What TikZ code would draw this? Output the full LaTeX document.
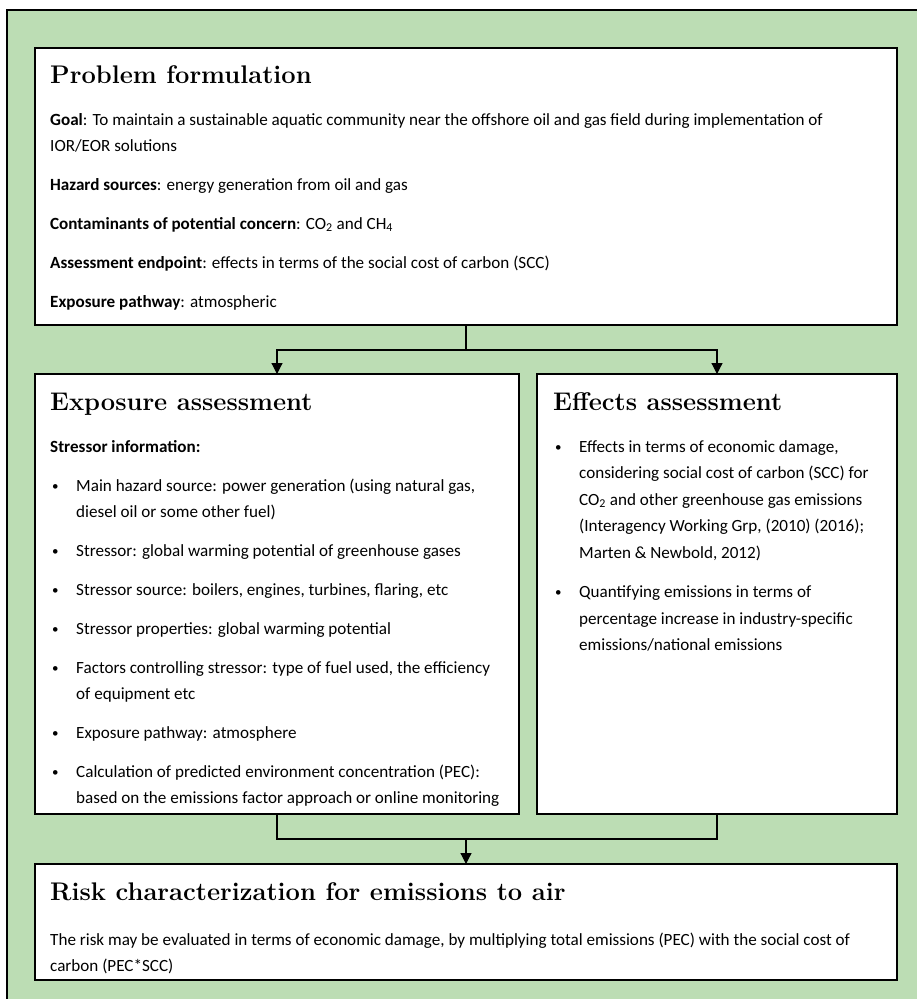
\documentclass[tikz,border=0pt]{standalone}
\usepackage{xcolor}
\usepackage{fontspec}
\usepackage{tikz}
\usetikzlibrary{arrows.meta}
\newfontfamily\bodyfont{Carlito}
\definecolor{panelgreen}{RGB}{188,221,180}
\newcommand{\bul}{\hspace*{2pt}\makebox[24pt][l]{\raisebox{1pt}{\fontsize{13}{13}\selectfont\textbullet}}}
\newcommand{\ind}{\hspace*{26pt}}
\newcommand{\head}[1]{{\normalfont\fontsize{25.5}{28}\selectfont\bfseries #1\par}}

\begin{document}
\begin{tikzpicture}[x=1pt, y=-1pt,
                box/.style={draw, rectangle, line width=2pt, fill=white, outer sep=0pt, anchor=north west},
                txt/.style={anchor=base west, inner sep=0pt, font=\bodyfont\fontsize{17.1}{26}\selectfont},
                link/.style={line width=1.2pt},
                arrow/.style={link, -{Triangle[length=11pt,width=11pt]}}]
                \useasboundingbox[fill=white] (0,0) rectangle (916,999);
                \draw[fill=panelgreen, line width=1.5pt] (7,10) rectangle (940,1020);
                \node[box, minimum width=862pt, minimum height=277pt] (prob) at (35,48) {};
                \node[box, minimum width=484pt, minimum height=440pt] (expo) at (35,374) {};
                \node[box, minimum width=360pt, minimum height=440pt] (eff) at (537,374) {};
                \node[box, minimum width=862pt, minimum height=116pt] (risk) at (35,864) {};
                \node[txt] (probtext) at (50,83) {\begin{minipage}[t]{850pt}\raggedright
                    \head{Problem formulation}
                    \setlength{\parskip}{13pt}\vspace{3pt}
                    \textbf{Goal}: To maintain a sustainable aquatic community near the offshore oil and gas field during implementation of\\
                    IOR/EOR solutions\par
                    \textbf{Hazard sources}: energy generation from oil and gas\par
                    \textbf{Contaminants of potential concern}: CO\textsubscript{2} and CH\textsubscript{4}\par
                    \textbf{Assessment endpoint}: effects in terms of the social cost of carbon (SCC)\par
                    \textbf{Exposure pathway}: atmospheric\par
                \end{minipage}};
                \node[txt] (expotext) at (50,410) {\begin{minipage}[t]{600pt}\raggedright
                    \head{Exposure assessment}
                    \setlength{\parskip}{13pt}\vspace{3pt}
                    \textbf{Stressor information:}\par
                    \bul Main hazard source: power generation (using natural gas,\\
                    \ind diesel oil or some other fuel)\par
                    \bul Stressor: global warming potential of greenhouse gases\par
                    \bul Stressor source: boilers, engines, turbines, flaring, etc\par
                    \bul Stressor properties: global warming potential\par
                    \bul Factors controlling stressor: type of fuel used, the efficiency\\
                    \ind of equipment etc\par
                    \bul Exposure pathway: atmosphere\par
                    \bul Calculation of predicted environment concentration (PEC):\\
                    \ind based on the emissions factor approach or online monitoring\par
                \end{minipage}};
                \node[txt] (efftext) at (553,410) {\begin{minipage}[t]{500pt}\raggedright
                    \head{Effects assessment}
                    \fontsize{17.1}{26.5}\selectfont
                    \setlength{\parskip}{13pt}\vspace{2.5pt}
                    \bul Effects in terms of economic damage,\\
                    \ind considering social cost of carbon (SCC) for\\
                    \ind CO\textsubscript{2} and other greenhouse gas emissions\\
                    \ind (Interagency Working Grp, (2010) (2016);\\
                    \ind Marten \& Newbold, 2012)\par
                    \bul Quantifying emissions in terms of\\
                    \ind percentage increase in industry-specific\\
                    \ind emissions/national emissions\par
                \end{minipage}};
                \node[txt] (risktext) at (50,900) {\begin{minipage}[t]{850pt}\raggedright
                    \head{Risk characterization for emissions to air}
                    \setlength{\parskip}{13pt}\vspace{6pt}
                    The risk may be evaluated in terms of economic damage, by multiplying total emissions (PEC) with the social cost of\\
                    carbon (PEC*SCC)\par
                \end{minipage}};
                \coordinate (split) at (466,350);
                \coordinate (join) at (466,839);
                \draw[link] (prob.south) -- (split);
                \draw[arrow] (split) -| (expo.north);
                \draw[arrow] (split) -| (eff.north);
                \draw[link] (expo.south) |- (join);
                \draw[link] (eff.south) |- (join);
                \draw[arrow] (join) -- (risk.north);
            \end{tikzpicture}
\end{document}
